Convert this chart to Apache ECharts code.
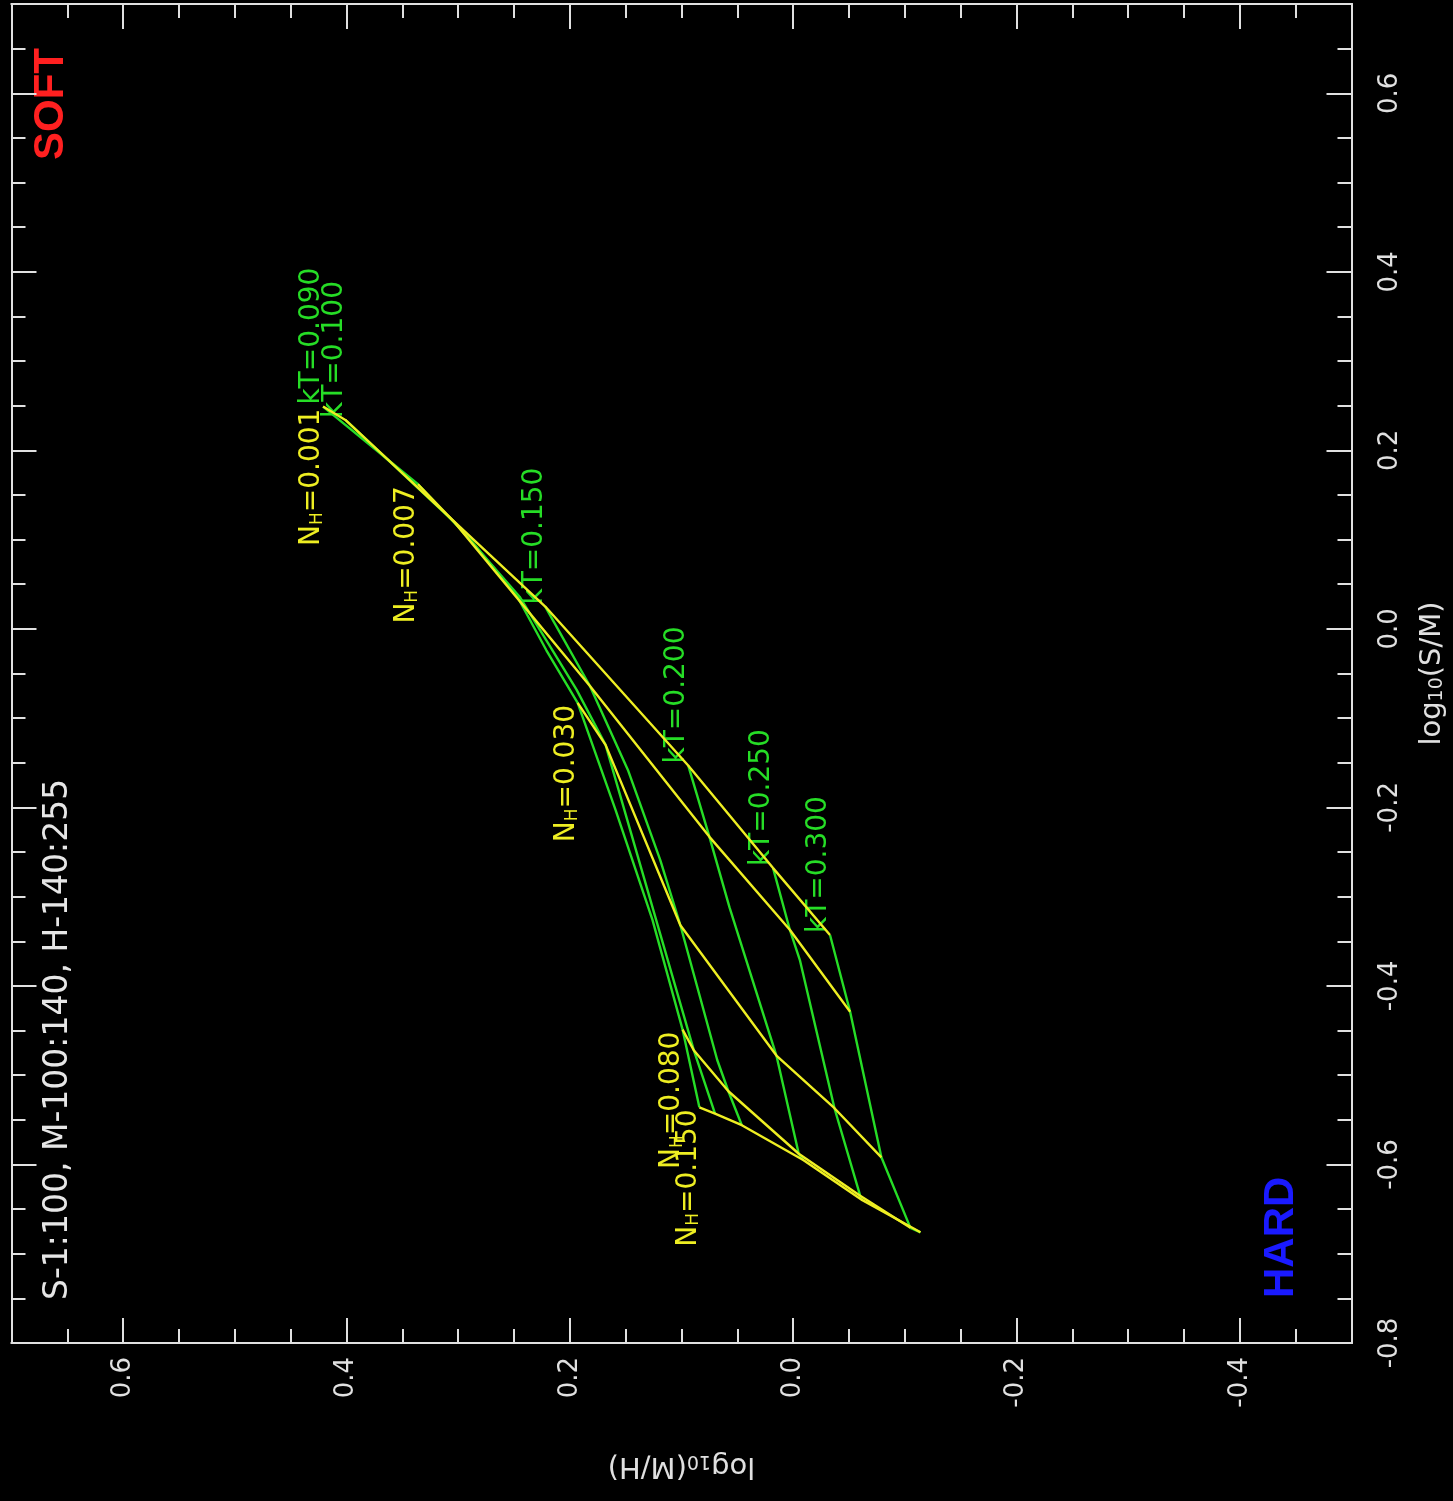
<!DOCTYPE html>
<html><head><meta charset="utf-8">
<script src="https://cdn.jsdelivr.net/npm/echarts@6/dist/echarts.min.js"></script>
<style>html,body{margin:0;padding:0;background:#000;}#c{width:1453px;height:1501px;}</style>
</head><body><div id="c"></div>
<script>
// ---- data: points are [log10(M/H), log10(S/M)] ----
const ktNames = ['kT=0.090','kT=0.100','kT=0.150','kT=0.200','kT=0.250','kT=0.300'];
const nhNames = ['0.001','0.007','0.030','0.080','0.150'];
// constant-NH tracks (yellow), points at kT = 0.09, 0.10, 0.15, 0.20, 0.25, 0.30
const nh0001 = [[0.421,0.249],[0.401,0.234],[0.222,0.025],[0.094,-0.153],[0.018,-0.268],[-0.033,-0.343]];
const nh0007 = [[0.336,0.162],[0.303,0.119],[0.182,-0.064],[0.075,-0.233],[0.003,-0.337],[-0.051,-0.429]];
const nh0030 = [[0.193,-0.083],[0.168,-0.130],[0.101,-0.332],[0.015,-0.478],[-0.037,-0.537],[-0.079,-0.592]];
const nh0080 = [[0.099,-0.449],[0.089,-0.472],[0.058,-0.518],[-0.005,-0.588],[-0.060,-0.635],[-0.105,-0.671]];
const nh0150 = [[0.084,-0.536],[0.070,-0.543],[0.046,-0.556],[-0.009,-0.595],[-0.062,-0.640],[-0.114,-0.676]];
// constant-kT tracks (green), from NH = 0.001 to NH = 0.150
const kt090 = [[0.421,0.249],[0.336,0.162],[0.289,0.100],[0.247,0.036],[0.221,-0.024],[0.193,-0.083],[0.159,-0.203],[0.126,-0.326],[0.099,-0.449],[0.084,-0.536]];
const kt100 = [[0.401,0.234],[0.303,0.119],[0.245,0.036],[0.194,-0.068],[0.168,-0.130],[0.089,-0.472],[0.070,-0.543]];
const kt150 = [[0.222,0.025],[0.182,-0.064],[0.148,-0.158],[0.119,-0.259],[0.101,-0.332],[0.068,-0.483],[0.058,-0.518],[0.046,-0.556]];
const kt200 = [[0.094,-0.153],[0.075,-0.233],[0.057,-0.312],[0.015,-0.478],[-0.005,-0.588],[-0.009,-0.595]];
const kt250 = [[0.018,-0.268],[0.003,-0.337],[-0.006,-0.371],[-0.037,-0.537],[-0.060,-0.635],[-0.062,-0.640]];
const kt300 = [[-0.033,-0.343],[-0.051,-0.429],[-0.079,-0.592],[-0.105,-0.671],[-0.114,-0.676]];
// axis ticks
const xMajor = [0.6,0.4,0.2,0,-0.2,-0.4];
const xMinor = [0.65,0.55,0.5,0.45,0.35,0.3,0.25,0.15,0.1,0.05,-0.05,-0.1,-0.15,-0.25,-0.3,-0.35,-0.45];
const yMajor = [0.6,0.4,0.2,0,-0.2,-0.4,-0.6,-0.8];
const yMinor = [0.65,0.55,0.5,0.45,0.35,0.3,0.25,0.15,0.1,0.05,-0.05,-0.1,-0.15,-0.25,-0.3,-0.35,-0.45,-0.5,-0.55,-0.65,-0.7,-0.75];
const infoText = 'S-1:100, M-100:140, H-140:255';

const nhTracks = [nh0001,nh0007,nh0030,nh0080,nh0150];
const ktTracks = [kt090,kt100,kt150,kt200,kt250,kt300];

const FRAME = '#e0e0e0', YEL = '#eeee22', GRN = '#26dd26';
const FONT = 'DejaVu Sans';

function xAxis(pos, vals, len, labels) {
  return {
    type:'value', min:-0.5, max:0.7, inverse:true, position:pos,
    axisLine:{show:true, onZero:false, lineStyle:{color:FRAME, width:2}},
    axisTick:{show:true, inside:true, length:len, customValues:vals, lineStyle:{color:FRAME, width:2}},
    axisLabel: labels ? {show:true, customValues:vals, rotate:90, margin:14, color:FRAME, fontSize:26, fontFamily:FONT,
      formatter:v=>(+v).toFixed(1)} : {show:false},
    splitLine:{show:false}
  };
}
function yAxis(pos, vals, len, labels) {
  return {
    type:'value', min:-0.8, max:0.7, position:pos,
    axisLine:{show:true, onZero:false, lineStyle:{color:FRAME, width:2}},
    axisTick:{show:true, inside:true, length:len, customValues:vals, lineStyle:{color:FRAME, width:2}},
    axisLabel: labels ? {show:true, customValues:vals, rotate:90, margin:26, color:FRAME, fontSize:26, fontFamily:FONT,
      formatter:v=>(+v).toFixed(1)} : {show:false},
    splitLine:{show:false}
  };
}
const nameRich = {t:{fontSize:29, fontFamily:FONT, color:FRAME}, s:{fontSize:19, fontFamily:FONT, color:FRAME, verticalAlign:'bottom'}};

const xs = [xAxis('bottom', xMajor, 25, true), xAxis('bottom', xMinor, 14, false), xAxis('top', xMajor, 25, false), xAxis('top', xMinor, 14, false)];
Object.assign(xs[0], {name:'{t|log}{s|10}{t|(M/H)}', nameLocation:'middle', nameRotate:180, nameGap:108, nameTextStyle:{rich:nameRich}});
const ys = [yAxis('right', yMajor, 25, true), yAxis('right', yMinor, 14, false), yAxis('left', yMajor, 25, false), yAxis('left', yMinor, 14, false)];
Object.assign(ys[0], {name:'{t|log}{s|10}{t|(S/M)}', nameLocation:'middle', nameRotate:90, nameGap:66, nameTextStyle:{rich:nameRich}});

const series = [];
ktTracks.forEach((d,i)=>series.push({type:'line', name:ktNames[i], data:d, xAxisIndex:0, yAxisIndex:0, showSymbol:false, silent:true,
  lineStyle:{color:GRN, width:2.4}, z:2}));
nhTracks.forEach((d,i)=>series.push({type:'line', name:'NH='+nhNames[i], data:d, xAxisIndex:0, yAxisIndex:0, showSymbol:false, silent:true,
  lineStyle:{color:YEL, width:2.4}, z:3}));

const chart = echarts.init(document.getElementById('c'), null, {renderer:'canvas'});
chart.setOption({
  backgroundColor:'#000', animation:false,
  grid:{left:11.5, right:101.5, top:4, bottom:158, containLabel:false, outerBoundsMode:'none'},
  xAxis: xs, yAxis: ys, series: series
});

// labels placed at the model points
const g = [];
const R = Math.PI/2;
ktTracks.forEach((d,i)=>{
  const p = chart.convertToPixel({xAxisIndex:0, yAxisIndex:0}, d[0]);
  g.push({type:'text', x:p[0]-11, y:p[1]-2, rotation:R, silent:true,
    style:{text:ktNames[i], fill:GRN, font:'28px "DejaVu Sans"', align:'left', verticalAlign:'middle'}});
});
const nhRich = {n:{fontSize:28, fontFamily:FONT, fill:YEL, color:YEL}, h:{fontSize:17, fontFamily:FONT, fill:YEL, color:YEL, verticalAlign:'bottom'}};
nhTracks.forEach((d,i)=>{
  const p = chart.convertToPixel({xAxisIndex:0, yAxisIndex:0}, d[0]);
  g.push({type:'text', x:p[0]-11, y:p[1]+2, rotation:R, silent:true,
    style:{text:'{n|N}{h|H}{n|='+nhNames[i]+'}', rich:nhRich, fill:YEL, font:'28px "DejaVu Sans"', align:'right', verticalAlign:'middle'}});
});
g.push({type:'text', x:51, y:160, rotation:R, silent:true,
  style:{text:'SOFT', fill:'#ff2020', font:'bold 42px "Liberation Sans"', align:'left', verticalAlign:'middle'}});
g.push({type:'text', x:1281, y:1298, rotation:R, silent:true,
  style:{text:'HARD', fill:'#1a1aff', font:'bold 42px "Liberation Sans"', align:'left', verticalAlign:'middle'}});
g.push({type:'text', x:58, y:1300, rotation:R, silent:true,
  style:{text:infoText, fill:'#e6e6e6', font:'33px "DejaVu Sans"', align:'left', verticalAlign:'middle'}});
chart.setOption({graphic:g});
</script></body></html>
